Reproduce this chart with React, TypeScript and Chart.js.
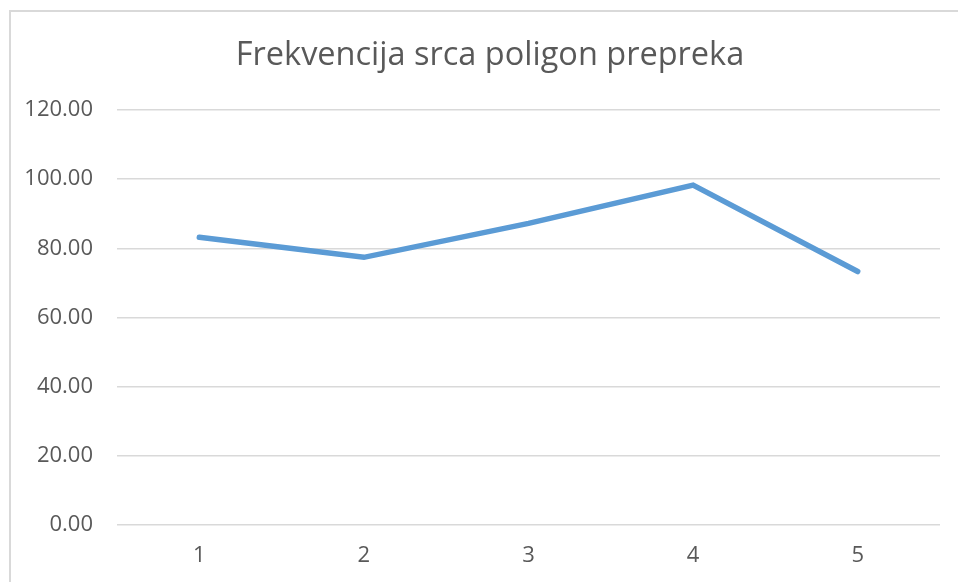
import React, { useEffect, useRef } from "react";
import { Chart, registerables } from "chart.js";

Chart.register(...registerables);

const categories: string[] = ["1", "2", "3", "4", "5"];
const heartRate: number[] = [83.2, 77.4, 87.2, 98.3, 73.3];
const chartTitle = "Frekvencija srca poligon prepreka";
const yMin = 0;
const yMax = 120;
const yStep = 20;

const titlePlugin = {
  id: "centeredTitle",
  afterDraw(chart: any) {
    const ctx = chart.ctx;
    ctx.save();
    ctx.font = "32.5px 'Open Sans', sans-serif";
    ctx.fillStyle = "#595959";
    ctx.textAlign = "center";
    ctx.textBaseline = "middle";
    ctx.fillText(chartTitle, 490, 56);
    ctx.restore();
  },
};

export default function App() {
  const canvasRef = useRef<HTMLCanvasElement | null>(null);

  useEffect(() => {
    if (!canvasRef.current) return;
    const chart = new Chart(canvasRef.current, {
      type: "line",
      data: {
        labels: categories,
        datasets: [
          {
            data: heartRate,
            borderColor: "#5b9bd5",
            backgroundColor: "#5b9bd5",
            borderWidth: 5.5,
            pointRadius: 0,
            pointHoverRadius: 0,
            tension: 0,
            borderCapStyle: "round",
            borderJoinStyle: "miter",
            fill: false,
          },
        ],
      },
      options: {
        animation: false,
        responsive: false,
        maintainAspectRatio: false,
        layout: { padding: { left: 10, right: 18, top: 110, bottom: 0 } },
        plugins: {
          legend: { display: false },
          tooltip: { enabled: false },
          title: { display: false },
        },
        scales: {
          x: {
            offset: true,
            grid: { display: false, drawTicks: false },
            border: { display: false },
            ticks: {
              color: "#595959",
              font: { family: "'Open Sans', sans-serif", size: 22 },
              padding: 18,
            },
            afterFit: (s: any) => {
              s.height = 57;
            },
          },
          y: {
            min: yMin,
            max: yMax,
            grid: { color: "#d9d9d9", lineWidth: 1.5, drawTicks: false },
            border: { display: false },
            ticks: {
              stepSize: yStep,
              color: "#595959",
              font: { family: "'Open Sans', sans-serif", size: 22 },
              padding: 24,
              callback: (v: any) => Number(v).toFixed(2),
            },
            afterFit: (s: any) => {
              s.width = 107;
            },
          },
        },
      },
      plugins: [titlePlugin],
    });
    return () => chart.destroy();
  }, []);

  return (
    <div
      style={{
        position: "fixed",
        left: 0,
        top: 0,
        width: 958,
        height: 582,
        overflow: "hidden",
        background: "#ffffff",
      }}
    >
      <div
        style={{
          position: "absolute",
          left: 9,
          top: 10,
          width: 962,
          height: 600,
          border: "2px solid #d9d9d9",
          boxSizing: "border-box",
        }}
      />
      <canvas
        ref={canvasRef}
        width={958}
        height={582}
        style={{ position: "absolute", left: 0, top: 0, width: 958, height: 582 }}
      />
    </div>
  );
}
